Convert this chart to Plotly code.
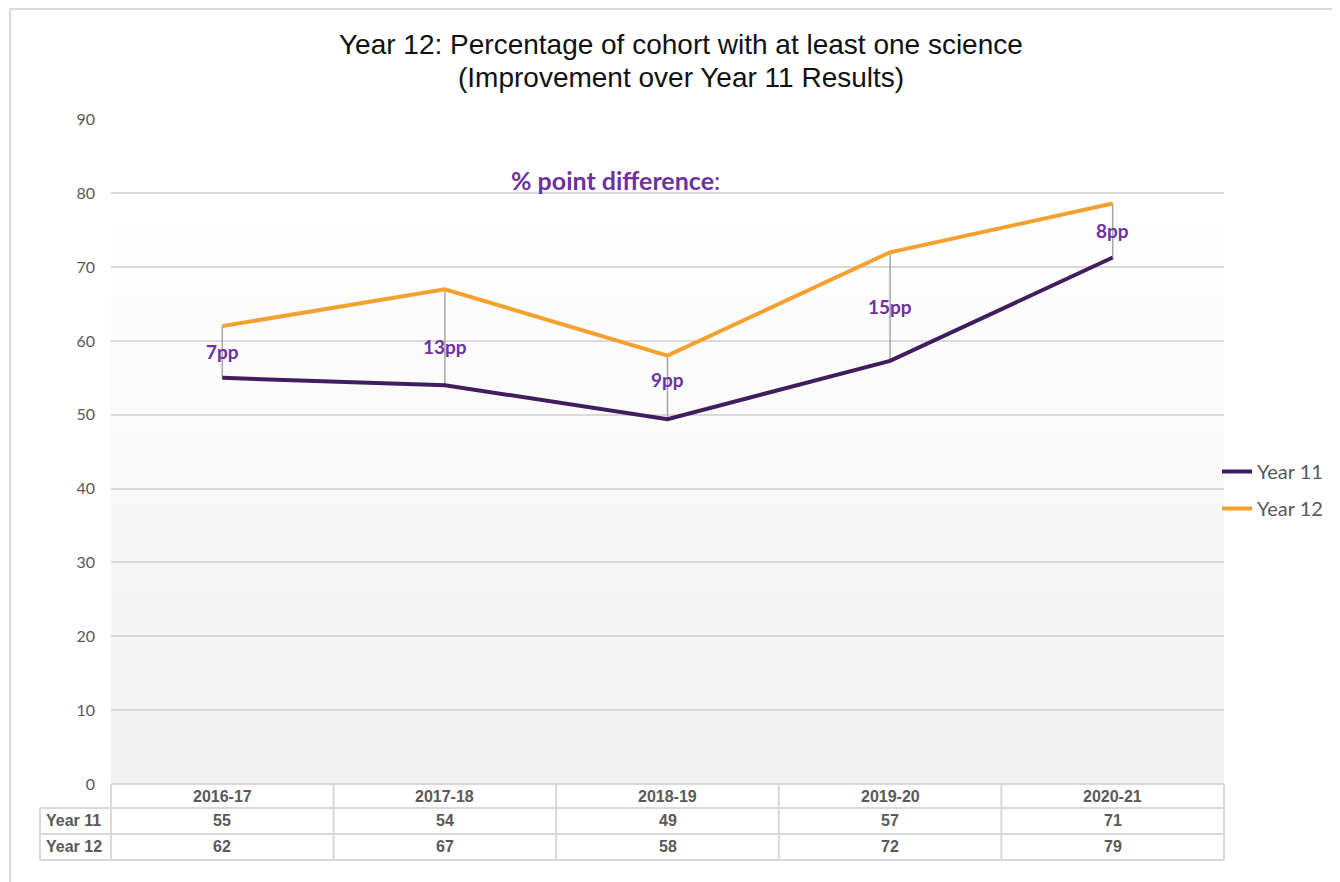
import plotly.graph_objects as go

# Data
years = ["2016-17", "2017-18", "2018-19", "2019-20", "2020-21"]
year11 = [55.0, 54.0, 49.4, 57.3, 71.3]
year12 = [62.0, 67.0, 58.0, 72.0, 78.6]
year11_table = ["55", "54", "49", "57", "71"]
year12_table = ["62", "67", "58", "72", "79"]
diff_labels = ["7pp", "13pp", "9pp", "15pp", "8pp"]
diff_shift = [0, -9, 8, 0, 0]

PURPLE = "#7030a0"
GREY_TXT = "#595959"
GRID = "#d9d9d9"

# page is 1340 x 882, the figure sits 8px in from the top-left corner
OFF = 8
W, H = 1340 - OFF, 882 - OFF
L, R, T, B = 111 - OFF, 1224 - OFF, 119 - OFF, 784 - OFF


def px_x(px):
    # px given in page pixels
    return (px - OFF - L) / (R - L)


def px_y(py):
    return (B - (py - OFF)) / (B - T)


fig = go.Figure()
n = len(years)
shapes = []

# gradient background from 0 to 80, built from thin bands under the grid
bands = 40
for k in range(bands):
    f = k / (bands - 1)
    c = int(round(0xf1 + (0xff - 0xf1) * f))
    top = 80 * (k + 1) / bands if k == bands - 1 else 80 * (k + 1) / bands + 0.6
    shapes.append(dict(type="rect", xref="paper", yref="y", x0=0, x1=1,
                       y0=80 * k / bands, y1=top,
                       fillcolor=f"rgb({c},{c},{c})", line=dict(width=0), layer="below"))

# drop lines between the two series
dx, dy = [], []
for i, yr in enumerate(years):
    dx += [yr, yr, None]
    dy += [year11[i], year12[i], None]
fig.add_trace(go.Scatter(x=dx, y=dy, mode="lines",
                         line=dict(color="#a6a6a6", width=1.5),
                         showlegend=False, hoverinfo="skip"))

fig.add_trace(go.Scatter(x=years, y=year11, mode="lines", name="Year 11",
                         line=dict(color="#3f1d5e", width=4),
                         legendgroup="a"))
fig.add_trace(go.Scatter(x=years, y=year12, mode="lines", name="Year 12",
                         line=dict(color="#f6a030", width=4),
                         legendgroup="b"))

# pp difference labels
for i, yr in enumerate(years):
    fig.add_annotation(x=yr, y=(year11[i] + year12[i]) / 2, text=f"<b>{diff_labels[i]}</b>",
                       showarrow=False, yshift=diff_shift[i],
                       font=dict(family="Lato, Noto Sans, sans-serif", size=19, color=PURPLE))

fig.add_annotation(xref="paper", yref="paper", x=px_x(615), y=px_y(180),
                   xanchor="center", yanchor="middle",
                   text="<b>% point difference</b>:", showarrow=False,
                   font=dict(family="Lato, Noto Sans, sans-serif", size=25, color=PURPLE))

# title
title_lines = ["Year 12: Percentage of cohort with at least one science",
               "(Improvement over Year 11 Results)"]
for ty, txt in zip([45, 77], title_lines):
    fig.add_annotation(xref="paper", yref="paper", x=px_x(681), y=px_y(ty),
                       xanchor="center", yanchor="middle", text=txt, showarrow=False,
                       font=dict(family="Liberation Sans, Arial, sans-serif", size=28, color="#111111"))

# data table below the axis
rows = [784, 808, 834, 860]
line_style = dict(color=GRID, width=2)
shapes.append(dict(type="line", xref="paper", yref="paper", x0=0, x1=1,
                   y0=px_y(rows[0]), y1=px_y(rows[0]), line=line_style))
for r in rows[1:]:
    shapes.append(dict(type="line", xref="paper", yref="paper", x0=px_x(40), x1=1,
                       y0=px_y(r), y1=px_y(r), line=line_style))
for k in range(n + 1):
    xp = k / n
    shapes.append(dict(type="line", xref="paper", yref="paper", x0=xp, x1=xp,
                       y0=px_y(rows[0]), y1=px_y(rows[3]), line=line_style))
shapes.append(dict(type="line", xref="paper", yref="paper", x0=px_x(40), x1=px_x(40),
                   y0=px_y(rows[1]), y1=px_y(rows[3]), line=line_style))
# outer chart border (top and left)
shapes.append(dict(type="line", xref="paper", yref="paper", x0=px_x(10), x1=px_x(1345),
                   y0=px_y(9), y1=px_y(9), line=line_style))
shapes.append(dict(type="line", xref="paper", yref="paper", x0=px_x(10), x1=px_x(10),
                   y0=px_y(9), y1=px_y(890), line=line_style))

tfont = dict(family="Liberation Sans, Arial, sans-serif", size=16, color=GREY_TXT)
for i, yr in enumerate(years):
    for r, txt in zip(rows[:3], [yr, year11_table[i], year12_table[i]]):
        fig.add_annotation(x=yr, xref="x", yref="paper", y=px_y(r + 12.5),
                           xanchor="center", yanchor="middle",
                           text=f"<b>{txt}</b>", showarrow=False, font=tfont)
for r, txt in zip(rows[1:3], ["Year 11", "Year 12"]):
    fig.add_annotation(xref="paper", yref="paper", x=px_x(44), xanchor="left",
                       yanchor="middle", y=px_y(r + 12.5), text=f"<b>{txt}</b>",
                       showarrow=False, font=tfont)

fig.update_layout(
    width=W, height=H,
    margin=dict(l=L, r=W - R, t=T, b=H - B),
    paper_bgcolor="white",
    plot_bgcolor="white",
    shapes=shapes,
    showlegend=True,
    legend=dict(x=px_x(1217), y=px_y(452), xanchor="left", yanchor="top",
                tracegroupgap=8, bgcolor="rgba(0,0,0,0)",
                font=dict(family="Lato, Noto Sans, sans-serif", size=20, color=GREY_TXT)),
    xaxis=dict(type="category", range=[-0.5, n - 0.5], showticklabels=False,
               showgrid=False, zeroline=False, showline=False, ticks=""),
    yaxis=dict(range=[0, 90.05], dtick=10, showgrid=True, gridcolor=GRID, gridwidth=1.5,
               zeroline=False, showline=False, ticks="", ticklabelstandoff=15,
               tickfont=dict(family="Lato, Noto Sans, sans-serif", size=16, color=GREY_TXT)),
)

fig.write_html("out.html")
